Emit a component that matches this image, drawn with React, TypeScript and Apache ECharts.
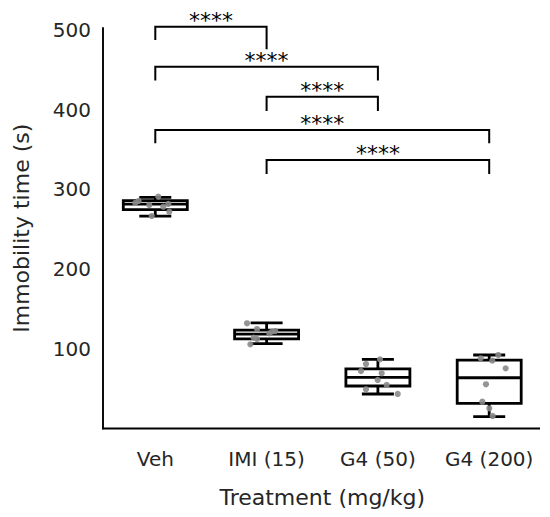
import React, { useEffect, useRef } from "react";
import * as echarts from "echarts";

const categories = ["Veh", "IMI (15)", "G4 (50)", "G4 (200)"];
const whiskerLow = [266.5, 106.5, 43.3, 14.8];
const quartile1 = [274.5, 112.5, 53.3, 31.6];
const medians = [281.5, 118.5, 64.2, 63.7];
const quartile3 = [286.0, 123.5, 74.7, 85.9];
const whiskerHigh = [290.0, 132.5, 86.8, 92.2];

const vehValues = [291.0, 283.0, 280.4, 278.3, 281.7, 272.0, 266.6, 285.5];
const vehJitter = [0.027, -0.18, -0.054, 0.072, 0.117, 0.126, -0.032, -0.15];
const imiValues = [132.0, 124.8, 121.5, 119.4, 114.0, 112.3, 105.6, 122.3];
const imiJitter = [-0.176, -0.086, 0.049, 0.024, -0.116, -0.086, -0.146, 0.078];
const g450Values = [80.9, 86.8, 72.1, 69.3, 60.9, 54.6, 49.2, 43.3];
const g450Jitter = [-0.107, 0.019, -0.152, 0.034, -0.002, 0.079, -0.107, 0.178];
const g4200Values = [88.1, 92.2, 85.1, 75.5, 55.5, 33.6, 25.3, 15.7];
const g4200Jitter = [-0.076, 0.082, 0.028, 0.148, -0.029, -0.062, 0.001, 0.031];

// brackets: [from index, to index, top, left drop end, right drop end]
const bracketFrom = [0, 0, 1, 0, 1];
const bracketTo = [1, 2, 2, 3, 3];
const bracketTop = [504.1, 454.0, 416.3, 374.5, 336.9];
const bracketLeftEnd = [487.5, 436.6, 398.4, 357.8, 319.3];
const bracketRightEnd = [475.8, 436.6, 398.4, 357.8, 319.3];
const bracketLabels = ["****", "****", "****", "****", "****"];

const FONT = "DejaVu Sans";
const TEXT = "#262626";

export default function App() {
  const ref = useRef<HTMLDivElement>(null);
  useEffect(() => {
    if (!ref.current) return;
    const chart = echarts.init(ref.current, null, { renderer: "svg" });

    const boxData = categories.map((_, i) => [
      i,
      whiskerLow[i],
      quartile1[i],
      medians[i],
      quartile3[i],
      whiskerHigh[i],
    ]);

    const groups = [
      [vehValues, vehJitter],
      [imiValues, imiJitter],
      [g450Values, g450Jitter],
      [g4200Values, g4200Jitter],
    ];
    const pointData: number[][] = [];
    groups.forEach(([vals, jit], i) => {
      vals.forEach((v, k) => pointData.push([i, jit[k], v]));
    });

    const bracketData = bracketFrom.map((f, i) => [
      f,
      bracketTo[i],
      bracketTop[i],
      bracketLeftEnd[i],
      bracketRightEnd[i],
      i,
    ]);

    chart.setOption({
      animation: false,
      grid: { left: 99.65, right: 5.15, top: 28, bottom: 88.5 },
      xAxis: {
        type: "category",
        data: categories,
        axisLine: { show: false },
        axisTick: { show: false },
        splitLine: { show: false },
        axisLabel: {
          interval: 0,
          hideOverlap: false,
          fontSize: 20,
          fontFamily: FONT,
          color: TEXT,
          margin: 20,
          lineHeight: 20,
        },
        name: "Treatment (mg/kg)",
        nameLocation: "middle",
        nameGap: 68.5,
        nameTextStyle: {
          fontSize: 22,
          fontFamily: FONT,
          color: TEXT,
          verticalAlign: "middle",
        },
      },
      yAxis: {
        type: "value",
        min: 0,
        max: 502.5,
        interval: 100,
        offset: -3.35,
        axisLine: { show: true, lineStyle: { color: "#000", width: 1.9 } },
        axisTick: { show: false },
        splitLine: { show: false },
        axisLabel: {
          fontSize: 20,
          fontFamily: FONT,
          color: TEXT,
          margin: 12,
          showMaxLabel: false,
          formatter: (v: number) => (v > 0 && v % 100 === 0 ? String(v) : ""),
        },
        name: "Immobility time (s)",
        nameLocation: "middle",
        nameRotate: 90,
        nameGap: 81.3,
        nameTextStyle: {
          fontSize: 22,
          fontFamily: FONT,
          color: TEXT,
          verticalAlign: "middle",
        },
      },
      graphic: [
        {
          type: "line",
          shape: { x1: 102.1, y1: 428.5, x2: 540, y2: 428.5 },
          style: { stroke: "#000", lineWidth: 1.9 },
        },
      ],
      series: [
        {
          type: "custom",
          clip: false,
          data: boxData,
          z: 2,
          renderItem: (params: any, api: any) => {
            const i = api.value(0);
            const band = api.size([1, 0])[0];
            const bw = band * 0.575;
            const cw = bw / 2;
            const x = api.coord([i, 0])[0];
            const yLow = api.coord([i, api.value(1)])[1];
            const yQ1 = api.coord([i, api.value(2)])[1];
            const yMed = api.coord([i, api.value(3)])[1];
            const yQ3 = api.coord([i, api.value(4)])[1];
            const yHigh = api.coord([i, api.value(5)])[1];
            const st = { stroke: "#000", lineWidth: 2.8, fill: "none" };
            return {
              type: "group",
              children: [
                { type: "line", shape: { x1: x, y1: yQ3, x2: x, y2: yHigh }, style: st },
                { type: "line", shape: { x1: x, y1: yQ1, x2: x, y2: yLow }, style: st },
                { type: "line", shape: { x1: x - cw / 2, y1: yHigh, x2: x + cw / 2, y2: yHigh }, style: st },
                { type: "line", shape: { x1: x - cw / 2, y1: yLow, x2: x + cw / 2, y2: yLow }, style: st },
                { type: "rect", shape: { x: x - bw / 2, y: yQ3, width: bw, height: yQ1 - yQ3 }, style: st },
                { type: "line", shape: { x1: x - bw / 2, y1: yMed, x2: x + bw / 2, y2: yMed }, style: st },
              ],
            };
          },
        },
        {
          type: "custom",
          clip: false,
          data: pointData,
          z: 3,
          renderItem: (params: any, api: any) => {
            const i = api.value(0);
            const band = api.size([1, 0])[0];
            const p = api.coord([i, api.value(2)]);
            return {
              type: "circle",
              shape: { cx: p[0] + api.value(1) * band, cy: p[1], r: 3.1 },
              style: { fill: "#8a8a8a", opacity: 0.9 },
            };
          },
        },
        {
          type: "custom",
          clip: false,
          data: bracketData,
          z: 4,
          renderItem: (params: any, api: any) => {
            const a = api.coord([api.value(0), api.value(2)]);
            const b = api.coord([api.value(1), api.value(2)]);
            const aEnd = api.coord([api.value(0), api.value(3)]);
            const bEnd = api.coord([api.value(1), api.value(4)]);
            const label = bracketLabels[api.value(5)];
            return {
              type: "group",
              children: [
                {
                  type: "polyline",
                  shape: { points: [aEnd, a, b, bEnd] },
                  style: { stroke: "#000", lineWidth: 2, fill: "none" },
                },
                {
                  type: "text",
                  style: {
                    text: label,
                    x: (a[0] + b[0]) / 2,
                    y: a[1] - 6.5,
                    align: "center",
                    verticalAlign: "middle",
                    textAlign: "center",
                    textVerticalAlign: "middle",
                    fontSize: 22,
                    fontFamily: FONT,
                    fill: "#000",
                  },
                },
              ],
            };
          },
        },
      ],
    });
    return () => chart.dispose();
  }, []);
  return (
    <div
      ref={ref}
      style={{ position: "fixed", left: 0, top: 0, width: 550, height: 517, background: "#fff" }}
    />
  );
}
